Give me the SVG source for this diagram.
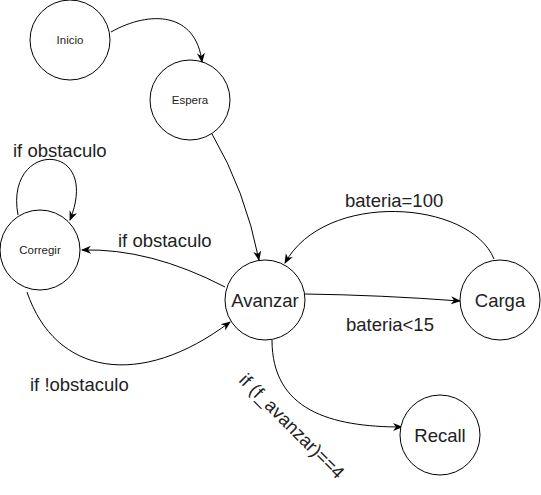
<svg xmlns="http://www.w3.org/2000/svg" width="541" height="495" viewBox="0 0 541 495">
<style>
.node{fill:#fff;stroke:#000;stroke-width:1}
.edge{fill:none;stroke:#000;stroke-width:1}
text{font-family:"Liberation Sans",Arial,Helvetica,sans-serif;fill:#222}
.s{font-size:11.5px;text-anchor:middle}
.b{font-size:18.5px;text-anchor:middle}
.l{font-size:18.5px}
</style>
<defs>
<marker id="arr" viewBox="0 0 10 10" refX="9" refY="5" markerWidth="10" markerHeight="10" markerUnits="userSpaceOnUse" orient="auto">
<path d="M0,1 L10,5 L0,9 L3,5 z" fill="#000"/>
</marker>
</defs>
<rect width="541" height="495" fill="#fff"/>
<g id="connectors">
<path class="edge" d="M111,32 C150,10 196,12 202,62" marker-end="url(#arr)"/>
<path class="edge" d="M212,134 Q245,190 259,260" marker-end="url(#arr)"/>
<path class="edge" d="M18,215 C4,140 102,140 70,220" marker-end="url(#arr)"/>
<path class="edge" d="M225,287 Q150,248 82,250" marker-end="url(#arr)"/>
<path class="edge" d="M27,292 C55,375 140,390 230,322" marker-end="url(#arr)"/>
<path class="edge" d="M305,294 Q380,295 460,301" marker-end="url(#arr)"/>
<path class="edge" d="M494,259 C470,200 325,190 285,263" marker-end="url(#arr)"/>
<path class="edge" d="M272,340 C272,410 330,427 402,427" marker-end="url(#arr)"/>
<text class="l" x="13" y="157">if obstaculo</text>
<text class="l" x="118" y="247">if obstaculo</text>
<text class="l" x="30" y="391">if !obstaculo</text>
<text class="l" x="345" y="207">bateria=100</text>
<text class="l" x="346" y="331">bateria&lt;15</text>
<text class="b" x="0" y="0" dominant-baseline="central" transform="translate(292,426) rotate(45)">if (f_avanzar)==4</text>
</g>
<g id="inicio"><circle class="node" cx="70" cy="40" r="40"/><text class="s" x="70" y="44">Inicio</text></g>
<g id="espera"><circle class="node" cx="190" cy="100" r="40"/><text class="s" x="190" y="104">Espera</text></g>
<g id="corregir"><circle class="node" cx="40" cy="250" r="40"/><text class="s" x="40" y="254">Corregir</text></g>
<g id="avanzar"><circle class="node" cx="265" cy="300" r="40"/><text class="b" x="265" y="306.5">Avanzar</text></g>
<g id="carga"><circle class="node" cx="500" cy="300" r="40"/><text class="b" x="500" y="306.5">Carga</text></g>
<g id="recall"><circle class="node" cx="440" cy="435" r="40"/><text class="b" x="440" y="441.5">Recall</text></g>
</svg>
